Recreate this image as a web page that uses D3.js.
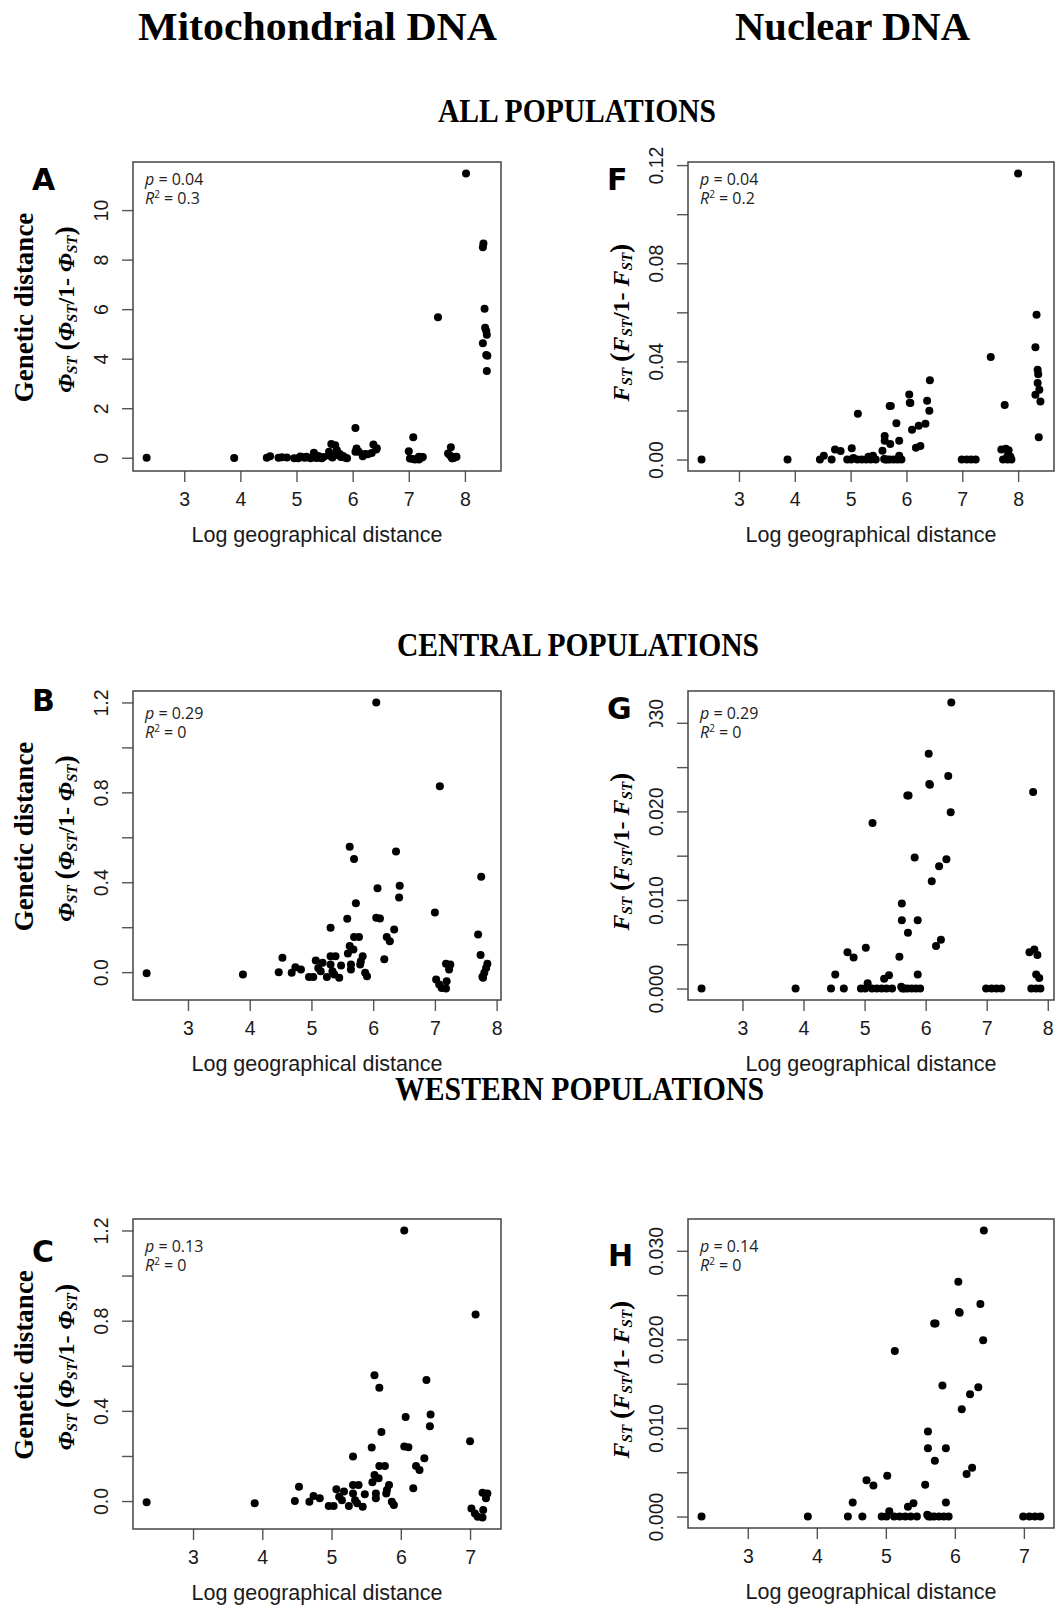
<!DOCTYPE html>
<html>
<head>
<meta charset="utf-8">
<script src="https://cdn.jsdelivr.net/npm/d3@7"></script>
<style>
  html, body { margin: 0; padding: 0; background: #fff; }
  svg { display: block; }
</style>
</head>
<body>
<div id="figure"></div>
<script>
// ---- data (log geographical distance vs genetic distance) ----
// mitochondrial, western populations (also part of central + all)
const mtWestX = [2.33, 3.89, 4.47, 4.53, 4.68, 4.74, 4.83, 4.96, 5.03, 5.07, 5.11, 5.15, 5.18, 5.25,
  5.31, 5.31, 5.31, 5.34, 5.39, 5.37, 5.45, 5.48, 5.58, 5.59, 5.62, 5.62, 5.64, 5.64, 5.68, 5.69,
  5.72, 5.69, 5.77, 5.80, 5.83, 5.79, 5.87, 5.90, 6.05, 6.07, 6.05, 6.11, 6.18, 6.22, 6.27, 6.34,
  6.37, 6.43, 6.42, 7.00, 7.02, 7.07, 7.08, 7.11, 7.18, 7.19, 7.18, 7.25, 7.23];
const mtWestY = [-0.005, -0.010, 0.000, 0.064, -0.003, 0.022, 0.012, -0.022, -0.022, 0.052, 0.019, 0.004, 0.042, -0.022,
  0.198, 0.071, 0.034, 0.004, 0.071, -0.010, -0.025, 0.030, 0.238, 0.083, 0.116, 0.558, 0.034, 0.012, 0.101, 0.503,
  0.306, 0.156, 0.156, 0.049, 0.071, 0.034, -0.003, -0.018, 1.200, 0.373, 0.242, 0.239, 0.057, 0.156, 0.138, 0.190,
  0.537, 0.384, 0.332, 0.265, -0.033, -0.055, 0.827, -0.070, -0.073, -0.040, 0.037, 0.034, 0.012];
// extra pairs in the central set
const mtCentralX = [7.70, 7.75, 7.74, 7.77, 7.80, 7.83, 7.85, 7.78];
const mtCentralY = [0.168, 0.424, 0.076, -0.021, -0.003, 0.019, 0.037, -0.025];
// extra pairs in the full set
const mtAllX = [7.52, 8.02, 8.33, 8.32, 8.35, 8.36, 8.38, 8.39, 8.32, 8.38, 8.40, 8.39];
const mtAllY = [5.67, 11.48, 8.65, 8.50, 6.02, 5.25, 5.12, 4.97, 4.62, 4.15, 4.12, 3.50];

// nuclear, western populations
const nuWestX = [2.33, 3.87, 4.45, 4.52, 4.66, 4.72, 4.82, 4.94, 5.01, 5.02, 5.05, 5.12, 5.13, 5.20,
  5.28, 5.32, 5.36, 5.40, 5.45, 5.57, 5.60, 5.61, 5.61, 5.62, 5.65, 5.70, 5.72, 5.70, 5.71, 5.77,
  5.82, 5.84, 5.87, 5.87, 5.91, 6.05, 6.06, 6.07, 6.10, 6.17, 6.22, 6.25, 6.34, 6.37, 6.41, 6.42,
  6.99, 7.08, 7.16, 7.24];
const nuWestY = [0, 0, 0, 0.0016, 0, 0.0041, 0.0035, 0, 0, 0.0046, 0.0006, 0, 0.0187, 0,
  0, 0.0011, 0, 0.0015, 0, 0.0036, 0.0002, 0.0096, 0.0077, 0, 0, 0.0218, 0.0218, 0, 0.0063, 0,
  0.0148, 0, 0.0077, 0.0016, 0, 0.0265, 0.0231, 0.0230, 0.0121, 0.0048, 0.0138, 0.0055, 0.0146, 0.0240, 0.0199, 0.0323,
  0, 0, 0, 0];
const nuCentralX = [7.70, 7.78, 7.83, 7.81, 7.86, 7.73, 7.81, 7.88, 7.76];
const nuCentralY = [0.0041, 0.0044, 0.0038, 0.0016, 0.0012, 0, 0, 0, 0.0222];
const nuAllX = [7.51, 8.00, 8.33, 8.31, 8.35, 8.36, 8.35, 8.38, 8.31, 8.40, 8.37];
const nuAllY = [0.0418, 0.1166, 0.0590, 0.0458, 0.0366, 0.0348, 0.0312, 0.0284, 0.0264, 0.0237, 0.0091];

// ---- ticks ----
const xTicksLong = [3, 4, 5, 6, 7, 8];
const xTicksShort = [3, 4, 5, 6, 7];
const mtAllTicks = [0, 2, 4, 6, 8, 10];
const mtAllLabels = ["0", "2", "4", "6", "8", "10"];
const mtTicks = [0, 0.2, 0.4, 0.6, 0.8, 1.0, 1.2];
const mtLabels = ["0.0", "", "0.4", "", "0.8", "", "1.2"];
const nuAllTicks = [0, 0.02, 0.04, 0.06, 0.08, 0.10, 0.12];
const nuAllLabels = ["0.00", "", "0.04", "", "0.08", "", "0.12"];
const nuTicks = [0, 0.005, 0.010, 0.015, 0.020, 0.025, 0.030];
const nuLabels = ["0.000", "", "0.010", "", "0.020", "", "0.030"];

const stats = {
  A: ["0.04", "0.3"], F: ["0.04", "0.2"],
  B: ["0.29", "0"], G: ["0.29", "0"],
  C: ["0.13", "0"], H: ["0.14", "0"]
};

const width = 1056;
const height = 1607;
const sans = "'Liberation Sans', Arial, sans-serif";
const serif = "'Liberation Serif', 'Times New Roman', serif";

const pts = (xs, ys) => d3.zip(xs, ys);

const panels = [
  { id: "A", kind: "mt", left: 133, top: 162, w: 368, h: 309,
    data: [...pts(mtWestX, mtWestY), ...pts(mtCentralX, mtCentralY), ...pts(mtAllX, mtAllY)],
    xt: xTicksLong, yt: mtAllTicks, yl: mtAllLabels, letter: [32, 190], st: 23 },
  { id: "F", kind: "nu", left: 688, top: 162, w: 366, h: 309,
    data: [...pts(nuWestX, nuWestY), ...pts(nuCentralX, nuCentralY), ...pts(nuAllX, nuAllY)],
    xt: xTicksLong, yt: nuAllTicks, yl: nuAllLabels, letter: [607, 190], st: 23 },
  { id: "B", kind: "mt", left: 133, top: 691, w: 368, h: 309,
    data: [...pts(mtWestX, mtWestY), ...pts(mtCentralX, mtCentralY)],
    xt: xTicksLong, yt: mtTicks, yl: mtLabels, letter: [32, 711], st: 28 },
  { id: "G", kind: "nu", left: 688, top: 691, w: 366, h: 309,
    data: [...pts(nuWestX, nuWestY), ...pts(nuCentralX, nuCentralY)],
    xt: xTicksLong, yt: nuTicks, yl: nuLabels, letter: [607, 719], st: 28 },
  { id: "C", kind: "mt", left: 133, top: 1219, w: 368, h: 310,
    data: pts(mtWestX, mtWestY),
    xt: xTicksShort, yt: mtTicks, yl: mtLabels, letter: [32, 1262], st: 33 },
  { id: "H", kind: "nu", left: 688, top: 1219, w: 366, h: 309,
    data: pts(nuWestX, nuWestY),
    xt: xTicksShort, yt: nuTicks, yl: nuLabels, letter: [608, 1266], st: 33 }
];

// R style axis range: data extent widened by 4%
function rDomain(values) {
  const [lo, hi] = d3.extent(values);
  const pad = (hi - lo) * 0.04;
  return [lo - pad, hi + pad];
}

const svg = d3.select("#figure").append("svg")
  .attr("width", width)
  .attr("height", height)
  .attr("viewBox", `0 0 ${width} ${height}`);

// column and section headings
svg.append("text").attr("x", 138).attr("y", 40)
  .attr("textLength", 359).attr("lengthAdjust", "spacingAndGlyphs")
  .style("font-family", serif).style("font-weight", "bold").style("font-size", "41px")
  .text("Mitochondrial DNA");
svg.append("text").attr("x", 735).attr("y", 40)
  .attr("textLength", 235).attr("lengthAdjust", "spacingAndGlyphs")
  .style("font-family", serif).style("font-weight", "bold").style("font-size", "41px")
  .text("Nuclear DNA");

const sections = [["ALL POPULATIONS", 438, 278, 122], ["CENTRAL POPULATIONS", 397, 362, 656], ["WESTERN POPULATIONS", 395, 369, 1100]];
sections.forEach(([t, x, len, y]) => {
  svg.append("text").attr("x", x).attr("y", y)
    .attr("textLength", len).attr("lengthAdjust", "spacingAndGlyphs")
    .style("font-family", serif).style("font-weight", "bold").style("font-size", "33px")
    .text(t);
});

function symbolLabel(sel, sym) {
  const parts = [
    [sym, "i"], ["ST", "s"], [" ", "n"], ["(", "p"], [sym, "i"], ["ST", "s"],
    ["/1- ", "n"], [sym, "i"], ["ST", "s"], [")", "p"]
  ];
  let shift = 0;
  parts.forEach(([t, k]) => {
    const want = k === "s" ? 3 : 0;
    sel.append("tspan")
      .attr("dy", want - shift)
      .style("font-style", k === "i" || k === "s" ? "italic" : "normal")
      .style("font-size", k === "s" ? "15px" : k === "p" ? "28px" : "24px")
      .text(t);
    shift = want;
  });
}

panels.forEach(p => {
  const x = d3.scaleLinear().domain(rDomain(p.data.map(d => d[0]))).range([0, p.w]);
  const y = d3.scaleLinear().domain(rDomain(p.data.map(d => d[1]))).range([p.h, 0]);

  const g = svg.append("g").attr("transform", `translate(${p.left},${p.top})`);

  const xAxis = d3.axisBottom(x).tickValues(p.xt).tickSize(11).tickFormat(d3.format("d"));
  g.append("g")
    .attr("transform", `translate(0,${p.h})`)
    .call(xAxis)
    .call(a => a.select(".domain").remove())
    .call(a => a.selectAll(".tick line").attr("stroke", "#555").attr("stroke-width", 1.4))
    .call(a => a.selectAll(".tick text")
      .attr("y", 35).attr("dy", 0)
      .attr("fill", "#1a1a1a")
      .style("font-family", sans).style("font-size", "19.5px"));

  const yAxis = d3.axisLeft(y).tickValues(p.yt).tickSize(11).tickFormat((d, i) => p.yl[i]);
  g.append("g")
    .call(yAxis)
    .call(a => a.select(".domain").remove())
    .call(a => a.selectAll(".tick line").attr("stroke", "#555").attr("stroke-width", 1.4))
    .call(a => a.selectAll(".tick text")
      .attr("x", 0).attr("dy", 0)
      .attr("transform", "translate(-25,0) rotate(-90)")
      .attr("text-anchor", "middle")
      .attr("fill", "#1a1a1a")
      .style("font-family", sans).style("font-size", "19.5px"));

  g.append("rect")
    .attr("width", p.w).attr("height", p.h)
    .attr("fill", "none").attr("stroke", "#444").attr("stroke-width", 1.5);

  g.append("g").selectAll("circle")
    .data(p.data)
    .join("circle")
    .attr("cx", d => x(d[0]))
    .attr("cy", d => y(d[1]))
    .attr("r", 4)
    .attr("fill", "#000");

  // p and R^2 annotation
  const s = stats[p.id];
  const t1 = g.append("text").attr("x", 12).attr("y", p.st)
    .style("font-family", "'Open Sans', sans-serif").style("font-size", "16px").attr("fill", "#222");
  t1.append("tspan").style("font-style", "italic").text("p");
  t1.append("tspan").text(" = " + s[0]);
  const t2 = g.append("text").attr("x", 12).attr("y", p.st + 19)
    .style("font-family", "'Open Sans', sans-serif").style("font-size", "16px").attr("fill", "#222");
  t2.append("tspan").style("font-style", "italic").text("R");
  t2.append("tspan").attr("dy", -6).style("font-size", "10px").text("2");
  t2.append("tspan").attr("dy", 6).text(" = " + s[1]);

  g.append("text")
    .attr("x", p.w / 2).attr("y", p.h + 71)
    .attr("text-anchor", "middle")
    .attr("fill", "#1a1a1a")
    .style("font-family", sans).style("font-size", "21.5px")
    .text("Log geographical distance");

  const mid = p.top + p.h / 2;
  if (p.kind === "mt") {
    svg.append("text")
      .attr("transform", `translate(33,${mid - 9}) rotate(-90)`)
      .attr("text-anchor", "middle")
      .style("font-family", serif).style("font-weight", "bold").style("font-size", "27px")
      .text("Genetic distance");
    symbolLabel(svg.append("text")
      .attr("transform", `translate(74,${mid - 7}) rotate(-90)`)
      .attr("text-anchor", "middle")
      .style("font-family", serif).style("font-weight", "bold"), "\u03A6");
  } else {
    symbolLabel(svg.append("text")
      .attr("transform", `translate(629,${mid + 6}) rotate(-90)`)
      .attr("text-anchor", "middle")
      .style("font-family", serif).style("font-weight", "bold"), "F");
  }

  svg.append("text")
    .attr("x", p.letter[0]).attr("y", p.letter[1])
    .style("font-family", "'DejaVu Sans', sans-serif").style("font-weight", "bold").style("font-size", "30px")
    .text(p.id);
});

// the top tick label of panel G is partly blanked out in the original figure
svg.append("rect").attr("x", 634).attr("y", 727).attr("width", 36).attr("height", 26).attr("fill", "#fff");
</script>
</body>
</html>
